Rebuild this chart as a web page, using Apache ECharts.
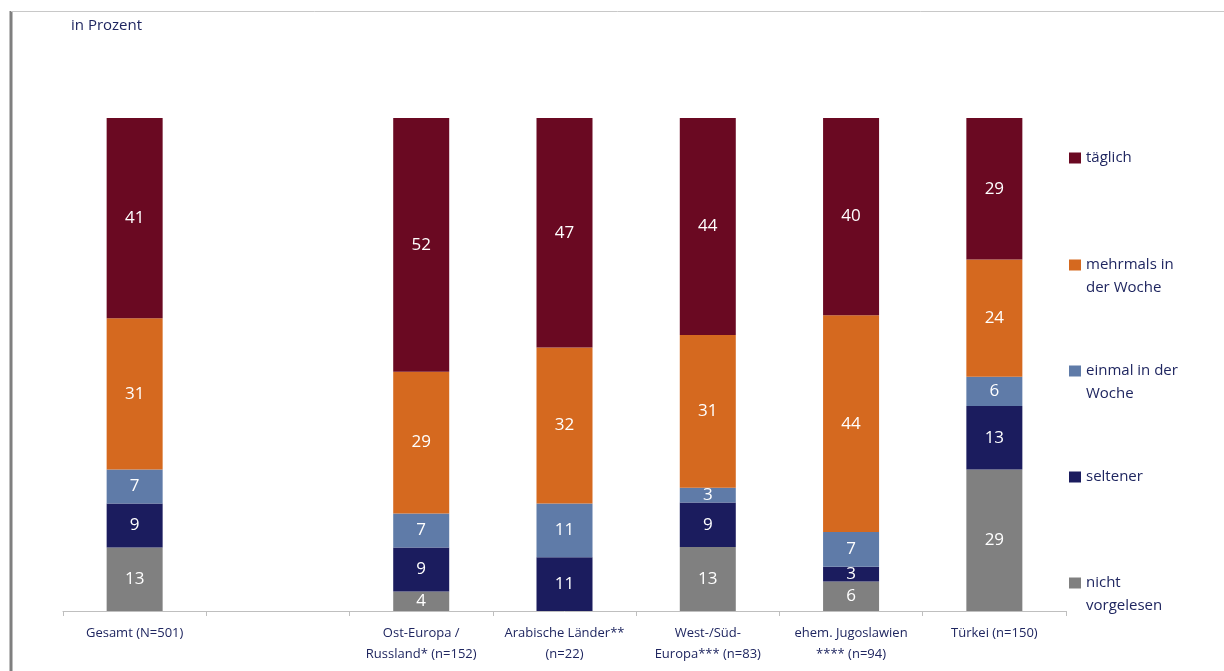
<!DOCTYPE html>
<html>
<head>
<meta charset="utf-8">
<script src="https://cdn.jsdelivr.net/npm/echarts@6/dist/echarts.min.js"></script>
<style>
  html, body { margin: 0; padding: 0; background: #fff; }
  #chart { width: 1224px; height: 671px; }
</style>
</head>
<body>
<div id="chart"></div>
<script>
// Regions (the second slot is intentionally empty to separate the total)
const categories = [
  'Gesamt (N=501)',
  '',
  'Ost-Europa /\nRussland* (n=152)',
  'Arabische Länder**\n(n=22)',
  'West-/Süd-\nEuropa*** (n=83)',
  'ehem. Jugoslawien\n**** (n=94)',
  'Türkei (n=150)'
];

// Reading frequency, in percent (bottom to top of each bar)
const nichtVorgelesen = [13, null, 4, 0, 13, 6, 29];
const seltener        = [9, null, 9, 11, 9, 3, 13];
const einmalWoche     = [7, null, 7, 11, 3, 7, 6];
const mehrmalsWoche   = [31, null, 29, 32, 31, 44, 24];
const taeglich        = [41, null, 52, 47, 44, 40, 29];

const seriesNames = ['nicht\nvorgelesen', 'seltener', 'einmal in der\nWoche', 'mehrmals in\nder Woche', 'täglich'];
const seriesColors = ['#808080', '#1B1C5E', '#5F7BA8', '#D5691F', '#6A0922'];
const seriesValues = [nichtVorgelesen, seltener, einmalWoche, mehrmalsWoche, taeglich];

// 100 % stacked: each bar is scaled to its own column total
const totals = categories.map((_, i) =>
  seriesValues.reduce((s, arr) => s + (arr[i] || 0), 0));

const FONT = '"Open Sans", Lato, sans-serif';
const TEXT = '#1F2660';

const series = seriesValues.map((arr, k) => ({
  name: seriesNames[k],
  type: 'bar',
  stack: 'total',
  barWidth: 56,
  itemStyle: { color: seriesColors[k] },
  label: {
    show: true,
    position: 'inside',
    color: '#fff',
    fontFamily: FONT,
    fontSize: 17,
    formatter: p => (p.data && p.data.raw) ? String(p.data.raw) : ''
  },
  data: arr.map((v, i) => v === null ? null : { value: totals[i] ? v / totals[i] * 100 : 0, raw: v })
}));

// One legend block per entry so that each can sit at its own height;
// two-line names get a blank line in front so the marker lines up with the first line
const legendRows = [
  { name: 'täglich', center: 158, lines: 1 },
  { name: 'mehrmals in\nder Woche', center: 265, lines: 2 },
  { name: 'einmal in der\nWoche', center: 371, lines: 2 },
  { name: 'seltener', center: 477, lines: 1 },
  { name: 'nicht\nvorgelesen', center: 583, lines: 2 }
];
const LH = 23;
const legends = legendRows.map(r => ({
  orient: 'vertical',
  left: 1069,
  top: r.lines === 1 ? r.center - LH / 2 : r.center - LH * 1.5,
  padding: 0,
  itemWidth: 12,
  itemHeight: 11,
  itemGap: 0,
  icon: 'rect',
  selectedMode: false,
  data: [r.name],
  formatter: name => (r.lines === 1 ? name : ' \n' + name),
  textStyle: {
    color: TEXT,
    fontFamily: FONT,
    fontSize: 15,
    lineHeight: LH
  }
}));

const chart = echarts.init(document.getElementById('chart'));
chart.setOption({
  animation: false,
  backgroundColor: '#fff',
  grid: { left: 63, right: 158, top: 118, bottom: 60, containLabel: false },
  legend: legends,
  xAxis: {
    type: 'category',
    data: categories,
    axisLine: { lineStyle: { color: '#BFBFBF', width: 1 } },
    axisTick: { show: true, alignWithLabel: false, length: 5, lineStyle: { color: '#BFBFBF' } },
    axisLabel: {
      color: TEXT,
      fontFamily: FONT,
      fontSize: 13,
      lineHeight: 21,
      margin: 12,
      interval: 0
    }
  },
  yAxis: {
    type: 'value',
    min: 0,
    max: 100,
    show: false
  },
  series: series,
  graphic: [
    {
      type: 'text',
      left: 71,
      top: 18,
      style: { text: 'in Prozent', fill: TEXT, font: '15px ' + FONT }
    },
    {
      type: 'line',
      shape: { x1: 11, y1: 11, x2: 11, y2: 671 },
      style: { stroke: '#7F7F7F', lineWidth: 3 }
    },
    {
      type: 'line',
      shape: { x1: 11, y1: 11.5, x2: 1224, y2: 11.5 },
      style: { stroke: '#C8C8C8', lineWidth: 1 }
    }
  ]
});
</script>
</body>
</html>
